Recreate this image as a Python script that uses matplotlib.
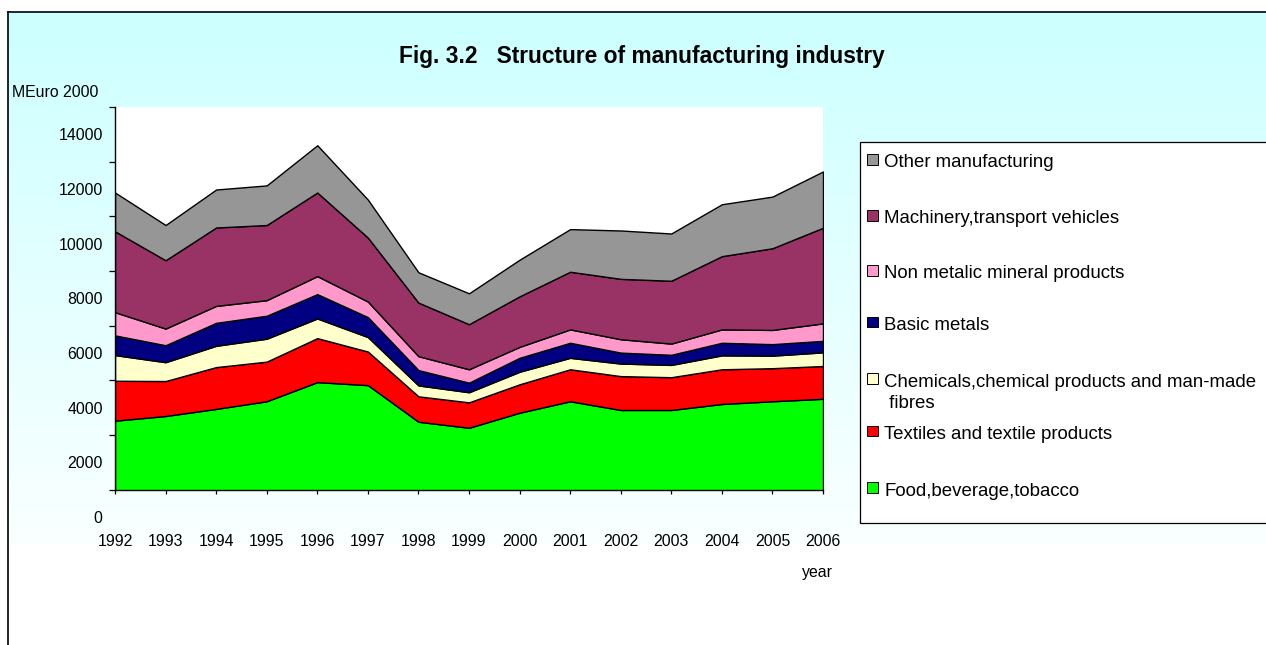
import numpy as np
import matplotlib.pyplot as plt
from matplotlib import patches, lines
from matplotlib.transforms import offset_copy

plt.rcParams['font.family'] = ['Liberation Sans', 'DejaVu Sans']

years = list(range(1992, 2007))

# MEuro 2000, bottom to top of the stack
food = [3520, 3690, 3950, 4230, 4930, 4820, 3480, 3260, 3810, 4230, 3910, 3910, 4130, 4230, 4320]
textiles = [1460, 1280, 1530, 1450, 1610, 1230, 930, 930, 1040, 1170, 1240, 1200, 1270, 1210, 1200]
chemicals = [940, 690, 780, 840, 720, 530, 400, 370, 460, 420, 460, 450, 510, 460, 500]
basic_metals = [720, 620, 840, 840, 890, 730, 560, 350, 510, 550, 400, 370, 460, 420, 420]
non_metalic = [850, 610, 620, 570, 660, 570, 510, 490, 400, 490, 490, 410, 490, 520, 640]
machinery = [2960, 2500, 2870, 2750, 3060, 2340, 1960, 1650, 1850, 2110, 2210, 2300, 2680, 2990, 3500]
other = [1420, 1290, 1390, 1450, 1730, 1390, 1110, 1130, 1340, 1560, 1770, 1730, 1900, 1890, 2060]

series = [food, textiles, chemicals, basic_metals, non_metalic, machinery, other]
names = ["Food,beverage,tobacco",
         "Textiles and textile products",
         "Chemicals,chemical products and man-made\n fibres",
         "Basic metals",
         "Non metalic mineral products",
         "Machinery,transport vehicles",
         "Other manufacturing"]
colors = ["#00FF00", "#FF0000", "#FFFFCC", "#000080", "#FF99CC", "#993366", "#969696"]

W, H = 1266, 645
my_dpi = 100


def fx(px):
    return px / W


def fy(py):
    return 1 - py / H


fig = plt.figure(figsize=(W / my_dpi, H / my_dpi), dpi=my_dpi, facecolor="white")

# cyan-to-white backdrop inside the outer frame
bg = fig.add_axes([fx(8), 0, 1 - fx(8), fy(11.5)], zorder=-10)
rows = int(H - 11.5)
t = np.arange(rows) / (543 - 11.5)
img = np.ones((rows, 1, 3))
img[:, 0, 0] = np.where(t <= 1, (204 + 46 * t) / 255, 1.0)
bg.imshow(img, aspect="auto", extent=[0, 1, 0, 1], interpolation="bilinear")
bg.set_axis_off()

fig.add_artist(lines.Line2D([fx(8), 1], [fy(11.5), fy(11.5)], color="black", lw=1.2))
fig.add_artist(lines.Line2D([fx(8), fx(8)], [0, fy(11.5)], color="black", lw=1.2))

ax = fig.add_axes([fx(115), fy(489.5), fx(823 - 115), (489.5 - 107) / H])
ax.set_facecolor("white")
ax.stackplot(years, *series, colors=colors, edgecolor="black", linewidth=1.0)

ax.set_xlim(1992, 2006)
ax.set_ylim(1000, 15000)
ax.set_xticks(years)
ax.set_xticklabels([str(y) for y in years])
ax.set_yticks(range(2000, 15000, 2000))
ax.set_yticks(range(1000, 15001, 2000), minor=True)
ax.tick_params(axis="y", which="major", length=0, pad=8.9, labelsize=11.4)
ax.tick_params(axis="y", which="minor", length=4, width=0.9, direction="out")
ax.tick_params(axis="x", length=2.9, width=0.9, pad=29, labelsize=11.4)
for side in ("top", "right"):
    ax.spines[side].set_visible(False)
for side in ("left", "bottom"):
    ax.spines[side].set_linewidth(1.0)

# the zero label sits below the visible axis range
zero_tr = offset_copy(ax.get_yaxis_transform(), fig=fig, x=-12.3, y=0, units="dots")
ax.text(0, 0, "0", transform=zero_tr, ha="right", va="center_baseline",
        fontsize=11.4, clip_on=False)

fig.text(fx(641.5), fy(62.7), "Fig. 3.2   Structure of manufacturing industry",
         ha="center", va="baseline", fontsize=16.4, fontweight="bold")
fig.text(fx(11.7), fy(96.7), "MEuro 2000", ha="left", va="baseline", fontsize=11.4)
fig.text(fx(817), fy(577.5), "year", ha="center", va="baseline", fontsize=11.4)

# legend box, top entry first
fig.add_artist(patches.Rectangle((fx(860), fy(523.3)), 1.0, (523.3 - 142.3) / H,
                                 transform=fig.transFigure, facecolor="white",
                                 edgecolor="black", lw=0.9))
baselines = [495.7, 439, 386.7, 330, 278.3, 223.3, 167.3]
for name, color, base in zip(names, colors, baselines):
    fig.add_artist(patches.Rectangle((fx(867.3), fy(base - 2.6)), fx(10.7), 10.7 / H,
                                     transform=fig.transFigure, facecolor=color,
                                     edgecolor="black", lw=0.7))
    for i, part in enumerate(name.split("\n")):
        fig.text(fx(884), fy(base + 21 * i), part, ha="left", va="baseline", fontsize=13.4)

fig.savefig("out.png", dpi=my_dpi)
